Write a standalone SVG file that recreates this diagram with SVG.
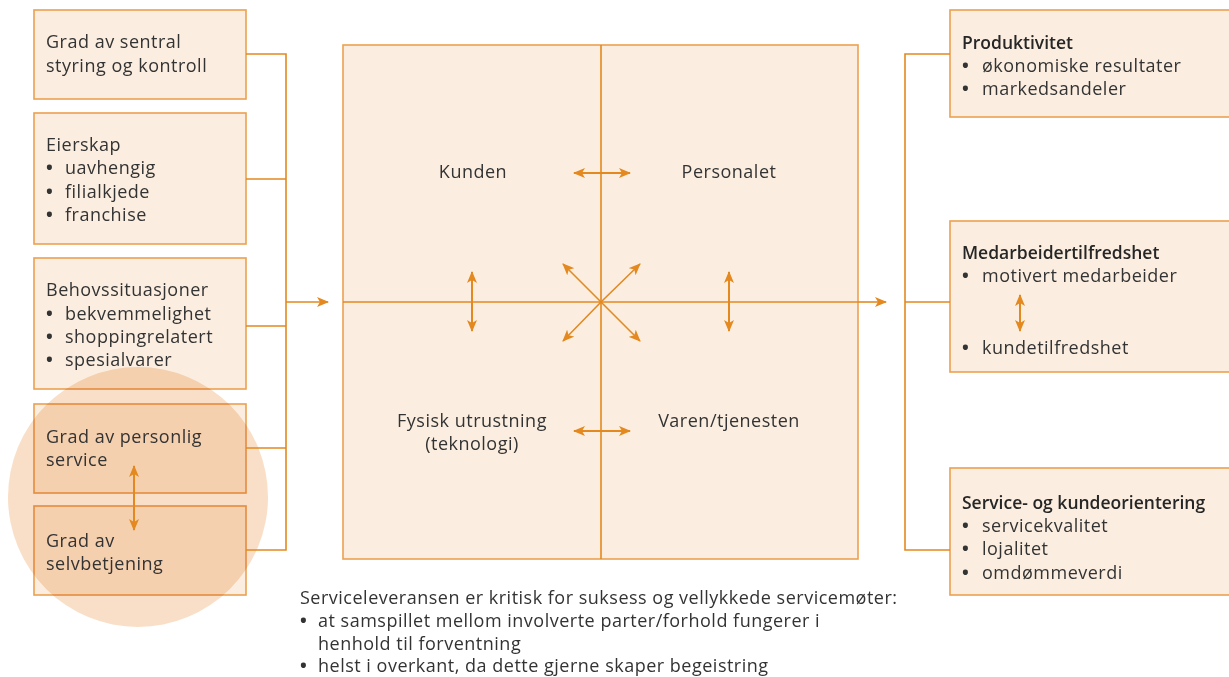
<svg xmlns="http://www.w3.org/2000/svg" width="1229" height="677" viewBox="0 0 1229 677">
<style>
.box{fill:#fbeee0;stroke:#eba04f;stroke-width:1.6}
.t{font-family:"Open Sans","Liberation Sans",sans-serif;font-size:18px;letter-spacing:0.5px;fill:#333333}
.b{font-size:17.5px;letter-spacing:0;font-weight:600;fill:#262626}
.u{font-weight:700;letter-spacing:0}
.c{text-anchor:middle}
.ln{fill:none;stroke:#e3891f;stroke-width:1.6}
.ar{fill:none;stroke:#e3891f;stroke-width:2}
.ard{fill:none;stroke:#e3891f;stroke-width:1.6}
</style>
<defs>
<marker id="ah" viewBox="0 0 12 10" refX="11" refY="5" markerWidth="12" markerHeight="10" markerUnits="userSpaceOnUse" orient="auto-start-reverse">
<path d="M0,0 L12,5 L0,10 L3,5 z" fill="#e3891f"/>
</marker>
</defs>
<rect width="1229" height="677" fill="#ffffff"/>

<g id="left-boxes">
<g id="n-styring">
<rect class="box" x="34" y="10" width="212" height="89"/>
<text class="t" x="46" y="48">Grad av sentral</text>
<text class="t" x="46" y="72">styring og kontroll</text>
</g>
<g id="n-eierskap">
<rect class="box" x="34" y="113" width="212" height="131"/>
<text class="t" x="46" y="151">Eierskap</text>
<text class="t u" x="46" y="174">•</text><text class="t" x="65" y="174">uavhengig</text>
<text class="t u" x="46" y="198">•</text><text class="t" x="65" y="198">filialkjede</text>
<text class="t u" x="46" y="221">•</text><text class="t" x="65" y="221">franchise</text>
</g>
<g id="n-behov">
<rect class="box" x="34" y="258" width="212" height="131"/>
<text class="t" x="46" y="296">Behovssituasjoner</text>
<text class="t u" x="46" y="320">•</text><text class="t" x="65" y="320">bekvemmelighet</text>
<text class="t u" x="46" y="343">•</text><text class="t" x="65" y="343">shoppingrelatert</text>
<text class="t u" x="46" y="366">•</text><text class="t" x="65" y="366">spesialvarer</text>
</g>
<g id="n-personlig">
<rect class="box" x="34" y="404" width="212" height="89"/>
</g>
<g id="n-selvbetjening">
<rect class="box" x="34" y="506" width="212" height="89"/>
</g>
<circle id="highlight" cx="138" cy="497" r="130" fill="#f9dfc7" style="mix-blend-mode:multiply"/>
<g id="n-personlig-text">
<text class="t" x="46" y="443">Grad av personlig</text>
<text class="t" x="46" y="466">service</text>
</g>
<g id="n-selvbetjening-text">
<text class="t" x="46" y="547">Grad av</text>
<text class="t" x="46" y="570">selvbetjening</text>
</g>
</g>

<g id="center">
<rect class="box" x="343" y="45" width="515" height="514"/>
<text class="t c" x="473" y="178">Kunden</text>
<text class="t c" x="729" y="178">Personalet</text>
<text class="t c" x="472" y="427">Fysisk utrustning</text>
<text class="t c" x="472" y="450">(teknologi)</text>
<text class="t c" x="729" y="427">Varen/tjenesten</text>
</g>

<g id="right-boxes">
<g id="n-produktivitet">
<rect class="box" x="950" y="10" width="290" height="107"/>
<text class="t b" x="962" y="49">Produktivitet</text>
<text class="t u" x="962" y="72">•</text><text class="t" x="982" y="72">økonomiske resultater</text>
<text class="t u" x="962" y="95">•</text><text class="t" x="982" y="95">markedsandeler</text>
</g>
<g id="n-medarbeider">
<rect class="box" x="950" y="221" width="290" height="151"/>
<text class="t b" x="962" y="259">Medarbeidertilfredshet</text>
<text class="t u" x="962" y="282">•</text><text class="t" x="982" y="282">motivert medarbeider</text>
<text class="t u" x="962" y="354">•</text><text class="t" x="982" y="354">kundetilfredshet</text>
</g>
<g id="n-service">
<rect class="box" x="950" y="468" width="290" height="127"/>
<text class="t b" x="962" y="509">Service- og kundeorientering</text>
<text class="t u" x="962" y="532">•</text><text class="t" x="982" y="532">servicekvalitet</text>
<text class="t u" x="962" y="555">•</text><text class="t" x="982" y="555">lojalitet</text>
<text class="t u" x="962" y="579">•</text><text class="t" x="982" y="579">omdømmeverdi</text>
</g>
</g>

<g id="connectors">
<path class="ln" d="M246,54 H286 V550 H246 M246,179 H286 M246,326 H286 M246,448 H286"/>
<path class="ln" d="M286,302 H328" marker-end="url(#ah)"/>
<path class="ln" d="M601,45 V559 M343,302 H858"/>
<path class="ln" d="M858,302 H886" marker-end="url(#ah)"/>
<path class="ln" d="M950,54 H905 V550 H950 M905,302 H950"/>
<path class="ar" d="M574,173 H630" marker-start="url(#ah)" marker-end="url(#ah)"/>
<path class="ar" d="M574,431 H630" marker-start="url(#ah)" marker-end="url(#ah)"/>
<path class="ar" d="M472,272 V331" marker-start="url(#ah)" marker-end="url(#ah)"/>
<path class="ar" d="M729,272 V331" marker-start="url(#ah)" marker-end="url(#ah)"/>
<path class="ard" d="M601,302 L563,264" marker-end="url(#ah)"/>
<path class="ard" d="M601,302 L640,264" marker-end="url(#ah)"/>
<path class="ard" d="M601,302 L563,341" marker-end="url(#ah)"/>
<path class="ard" d="M601,302 L640,341" marker-end="url(#ah)"/>
<path class="ar" d="M134,466 V530" marker-start="url(#ah)" marker-end="url(#ah)"/>
<path class="ar" d="M1020,295 V331" marker-start="url(#ah)" marker-end="url(#ah)"/>
</g>

<g id="note">
<text class="t" x="300" y="604">Serviceleveransen er kritisk for suksess og vellykkede servicemøter:</text>
<text class="t u" x="300" y="627">•</text><text class="t" x="318" y="627">at samspillet mellom involverte parter/forhold fungerer i</text>
<text class="t" x="318" y="650">henhold til forventning</text>
<text class="t u" x="300" y="672">•</text><text class="t" x="318" y="672">helst i overkant, da dette gjerne skaper begeistring</text>
</g>
</svg>
